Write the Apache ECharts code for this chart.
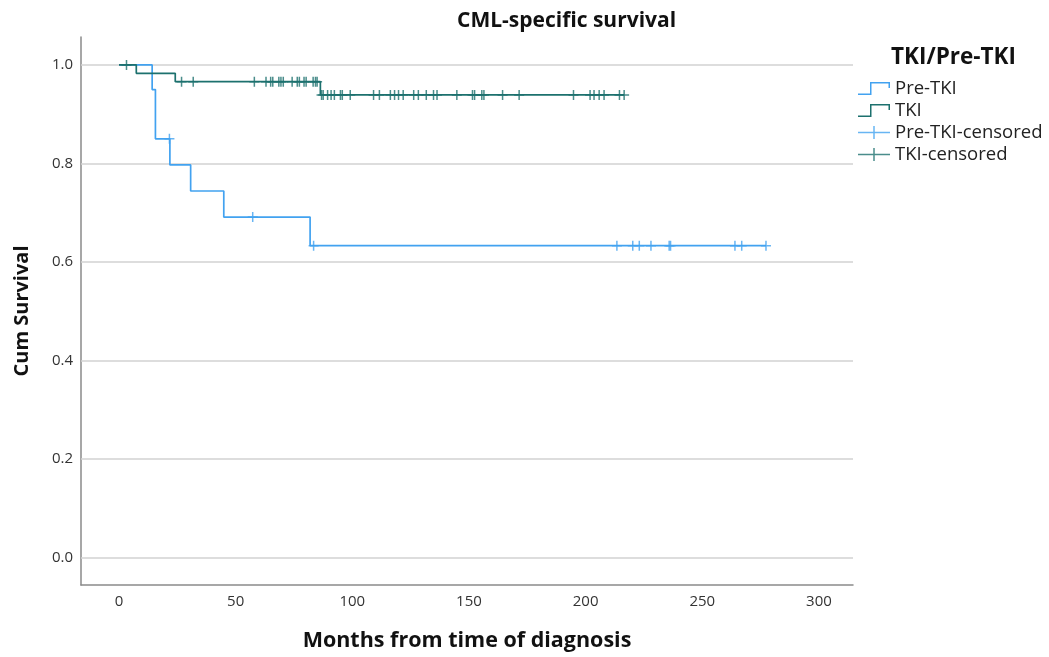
<!DOCTYPE html>
<html>
<head>
<meta charset="utf-8">
<script src="https://cdn.jsdelivr.net/npm/echarts@6/dist/echarts.min.js"></script>
<style>html,body{margin:0;padding:0;background:#fff;}#c{width:1049px;height:657px;}</style>
</head>
<body>
<div id="c"></div>
<script>
// ---- data ----
var xTickLabels = [0, 50, 100, 150, 200, 250, 300];
var yTickLabels = [0, 0.2, 0.4, 0.6, 0.8, 1.0];

var preTkiTimes = [0, 14.2, 15.6, 21.8, 30.7, 44.9, 81.9, 277.3];
var preTkiSurv  = [1, 0.95, 0.85, 0.797, 0.744, 0.691, 0.633, 0.633];
var preTkiCensored = [
  [21.6, 0.85], [57.3, 0.691], [83.4, 0.633], [213.4, 0.633], [220.2, 0.633],
  [223.0, 0.633], [228.0, 0.633], [235.8, 0.633], [236.4, 0.633], [264.0, 0.633],
  [266.9, 0.633], [277.3, 0.633]
];

var tkiTimes = [0, 7.4, 24.1, 86.3, 216.5];
var tkiSurv  = [1, 0.983, 0.966, 0.939, 0.939];
var tkiCensored = [
  [3.2, 1.0],
  [26.8, 0.966], [31.8, 0.966], [58.0, 0.966], [63.0, 0.966], [65.0, 0.966], [65.9, 0.966],
  [68.5, 0.966], [69.4, 0.966], [70.4, 0.966], [74.2, 0.966], [76.4, 0.966], [77.3, 0.966],
  [79.3, 0.966], [80.2, 0.966], [83.2, 0.966], [84.2, 0.966], [84.9, 0.966],
  [86.8, 0.939], [87.5, 0.939], [89.4, 0.939], [90.9, 0.939], [92.3, 0.939], [94.9, 0.939],
  [95.7, 0.939], [99.1, 0.939], [109.1, 0.939], [111.6, 0.939], [116.3, 0.939], [118.1, 0.939],
  [119.8, 0.939], [121.8, 0.939], [126.3, 0.939], [128.3, 0.939], [131.7, 0.939], [134.8, 0.939],
  [136.3, 0.939], [144.8, 0.939], [151.5, 0.939], [152.4, 0.939], [155.5, 0.939], [156.4, 0.939],
  [164.4, 0.939], [171.5, 0.939], [194.8, 0.939], [201.9, 0.939], [203.6, 0.939], [205.8, 0.939],
  [207.9, 0.939], [214.5, 0.939], [216.5, 0.939]
];

// ---- styling ----
var PRE = '#42a2f0';
var TKI = '#1d716e';
var FONT = '"Open Sans", "Noto Sans", sans-serif';
var plusPath = 'path://M4.25,0 L5.75,0 L5.75,4.25 L10,4.25 L10,5.75 L5.75,5.75 L5.75,10 L4.25,10 L4.25,5.75 L0,5.75 L0,4.25 L4.25,4.25 Z';
var stepIcon = 'path://M0,11.5 L12,11.5 L12,0 L32,0 L32,6 L30.5,6 L30.5,1.5 L13.5,1.5 L13.5,13 L0,13 Z';
var crossIcon = 'path://M0,5.75 L32,5.75 L32,7.25 L0,7.25 Z M15.25,0 L16.75,0 L16.75,13 L15.25,13 Z';

function zip(a, b) { return a.map(function (v, i) { return [v, b[i]]; }); }

var chart = echarts.init(document.getElementById('c'), null, { renderer: 'canvas' });
chart.setOption({
  animation: false,
  backgroundColor: '#ffffff',
  title: [
    { text: 'CML-specific survival', left: 452, top: 6,
      textStyle: { fontFamily: FONT, fontSize: 21, fontWeight: 'bold', color: '#111' } },
    { text: 'TKI/Pre-TKI', left: 886, top: 41,
      textStyle: { fontFamily: FONT, fontSize: 22.5, fontWeight: 'bold', color: '#111' } }
  ],
  legend: {
    orient: 'vertical', left: 853, top: 74,
    itemWidth: 32, itemHeight: 13, itemGap: 3,
    textStyle: { fontFamily: FONT, fontSize: 18.5, color: '#222' },
    data: [
      { name: 'Pre-TKI', icon: stepIcon },
      { name: 'TKI', icon: stepIcon },
      { name: 'Pre-TKI-censored', icon: crossIcon },
      { name: 'TKI-censored', icon: crossIcon }
    ]
  },
  grid: { left: 81, right: 196, top: 37, bottom: 66, containLabel: false },
  xAxis: {
    type: 'value', min: -16.3, max: 314.6,
    name: 'Months from time of diagnosis', nameLocation: 'middle', nameGap: 45,
    nameTextStyle: { fontFamily: FONT, fontSize: 21.5, fontWeight: 'bold', color: '#111' },
    axisLine: { show: true, onZero: false, lineStyle: { color: '#8a8a8a', width: 1.5 } },
    axisTick: { show: false },
    splitLine: { show: false },
    axisLabel: { customValues: xTickLabels, margin: 9, fontFamily: FONT, fontSize: 15, color: '#333' }
  },
  yAxis: {
    type: 'value', min: -0.0562, max: 1.0567,
    name: 'Cum Survival', nameLocation: 'middle', nameGap: 49,
    nameTextStyle: { fontFamily: FONT, fontSize: 20, fontWeight: 'bold', color: '#111' },
    axisLine: { show: true, onZero: false, lineStyle: { color: '#8a8a8a', width: 1.5 } },
    axisTick: { show: false },
    splitLine: { show: false },
    axisLabel: { customValues: yTickLabels, margin: 8, fontFamily: FONT, fontSize: 15, color: '#333',
      formatter: function (v) { return v.toFixed(1); } }
  },
  series: [
    { name: 'Pre-TKI', type: 'line', step: 'end', data: zip(preTkiTimes, preTkiSurv),
      symbol: 'none', showSymbol: false, color: PRE, z: 3,
      lineStyle: { color: PRE, width: 1.7 },
      markLine: {
        silent: true, symbol: ['none', 'none'], z: 1, animation: false,
        label: { show: false },
        lineStyle: { color: '#d2d2d2', width: 1.5, type: 'solid' },
        data: yTickLabels.map(function (v) { return { yAxis: v }; })
      } },
    { name: 'TKI', type: 'line', step: 'end', data: zip(tkiTimes, tkiSurv),
      symbol: 'none', showSymbol: false, color: TKI, z: 3,
      lineStyle: { color: TKI, width: 1.7 } },
    { name: 'Pre-TKI-censored', type: 'scatter', data: preTkiCensored,
      symbol: plusPath, symbolSize: 10, color: PRE, z: 4,
      itemStyle: { color: PRE } },
    { name: 'TKI-censored', type: 'scatter', data: tkiCensored,
      symbol: plusPath, symbolSize: 10, color: TKI, z: 4,
      itemStyle: { color: TKI } }
  ]
});
</script>
</body>
</html>
